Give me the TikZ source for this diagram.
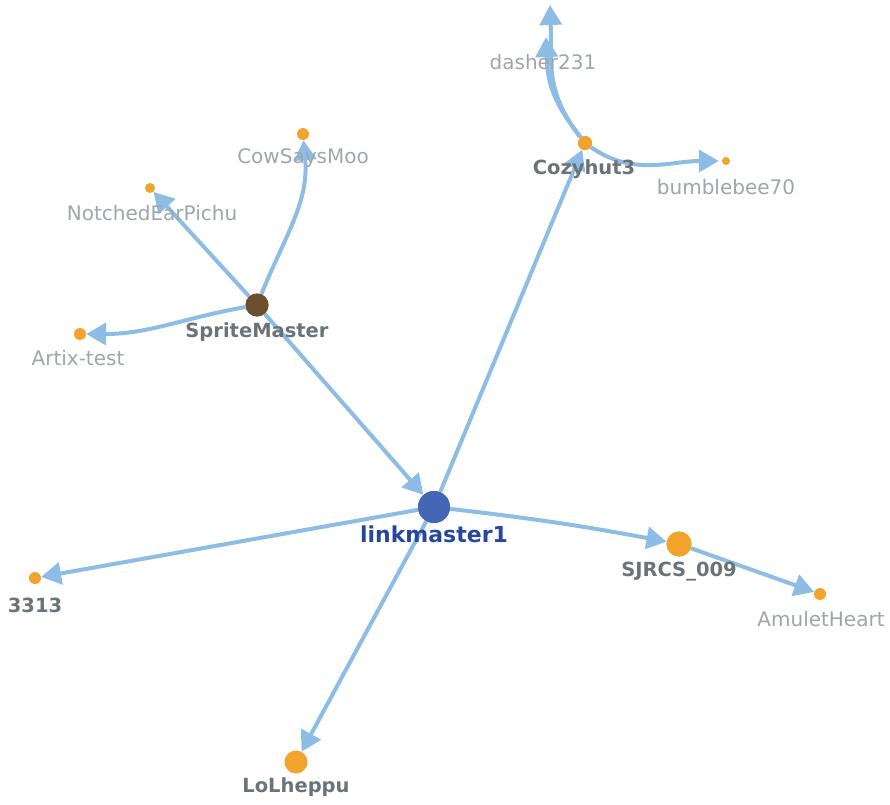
\documentclass[tikz,border=0pt]{standalone}
\usepackage{fontspec}
\setmainfont{DejaVu Sans}
\usetikzlibrary{arrows.meta}
\definecolor{edgeblue}{HTML}{8DBDE4}
\definecolor{hubblue}{HTML}{4466B5}
\definecolor{hubtext}{HTML}{26479A}
\definecolor{leaforange}{HTML}{F2A32C}
\definecolor{sprite}{HTML}{6B4F2E}
\definecolor{boldgray}{HTML}{6C7378}
\definecolor{lightgray}{HTML}{9EA6AA}
\tikzset{
  dot/.style={circle,inner sep=0pt,fill=leaforange,draw=none},
  boldlbl/.style={font=\fontsize{19.5}{23}\selectfont\bfseries,text=boldgray,inner sep=0pt},
  thinlbl/.style={font=\fontsize{20}{23}\selectfont,text=lightgray,inner sep=0pt},
  link/.style={draw=edgeblue,line width=4pt,
    -{Triangle[length=20pt,width=22pt]}},
}
\begin{document}
\begin{tikzpicture}[x=1pt,y=-1pt]
\useasboundingbox (0,0) rectangle (890,804);

% free ends of the two links that leave the top edge
\coordinate (dtop) at (550,5);
\coordinate (dmid) at (546,37);

% nodes
\node[dot,fill=hubblue,minimum size=32pt] (lm) at (434,507) {};
\node[dot,fill=sprite,minimum size=23pt] (sm) at (257,305) {};
\node[dot,minimum size=14pt] (cz) at (585,143) {};
\node[dot,minimum size=25pt] (sj) at (679,544) {};
\node[dot,minimum size=12pt] (am) at (820,594) {};
\node[dot,minimum size=12pt] (n3313) at (35,578) {};
\node[dot,minimum size=23pt] (lo) at (296,762) {};
\node[dot,minimum size=12pt] (ax) at (80,334) {};
\node[dot,minimum size=10pt] (ne) at (150,188) {};
\node[dot,minimum size=12pt] (cw) at (303,134) {};
\node[dot,minimum size=8pt] (bb) at (726,161) {};

% links
\draw[link] (sm) -- (lm);
\draw[link] (lm) -- (cz);
\draw[link] (lm) -- (n3313);
\draw[link] (lm) to[bend left=2] (sj);
\draw[link] (lm) -- (lo);
\draw[link] (sj) -- (am);
\draw[link] (sm) -- (ne);
\draw[link] (sm) to[out=68,in=-85] (cw);
\draw[link] (sm) to[out=-170,in=0] (ax);
\draw[link,shorten >=3pt] (cz) to[out=-35,in=180] (bb);
\draw[link] (cz) to[out=128,in=-88,looseness=1.1] (dmid);
\draw[link] (cz) to[out=128,in=-88,looseness=1.1] (dtop);

% dots over the link lines
\fill[hubblue] (lm) circle (16pt);
\fill[sprite] (sm) circle (11.5pt);
\fill[leaforange] (cz) circle (7pt);
\fill[leaforange] (sj) circle (12.5pt);

% labels
\node[font=\fontsize{22}{26}\selectfont\bfseries,text=hubtext,inner sep=0pt] (lml) at (434,534) {linkmaster1};
\node[boldlbl] (sml) at (257,332) {SpriteMaster};
\node[boldlbl] (czl) at (584,169) {Cozyhut3};
\node[boldlbl] (sjl) at (679,572) {SJRCS\_009};
\node[boldlbl] (l3313) at (35,605) {3313};
\node[boldlbl] (lol) at (296,787) {LoLheppu};
\node[thinlbl] (aml) at (821,619) {AmuletHeart};
\node[thinlbl] (axl) at (78,358) {Artix-test};
\node[thinlbl] (nel) at (152,213) {NotchedEarPichu};
\node[thinlbl] (cwl) at (303,158) {CowSaysMoo};
\node[thinlbl] (bbl) at (726,187) {bumblebee70};
\node[thinlbl] (dal) at (543,62) {dasher231};
\end{tikzpicture}
\end{document}
